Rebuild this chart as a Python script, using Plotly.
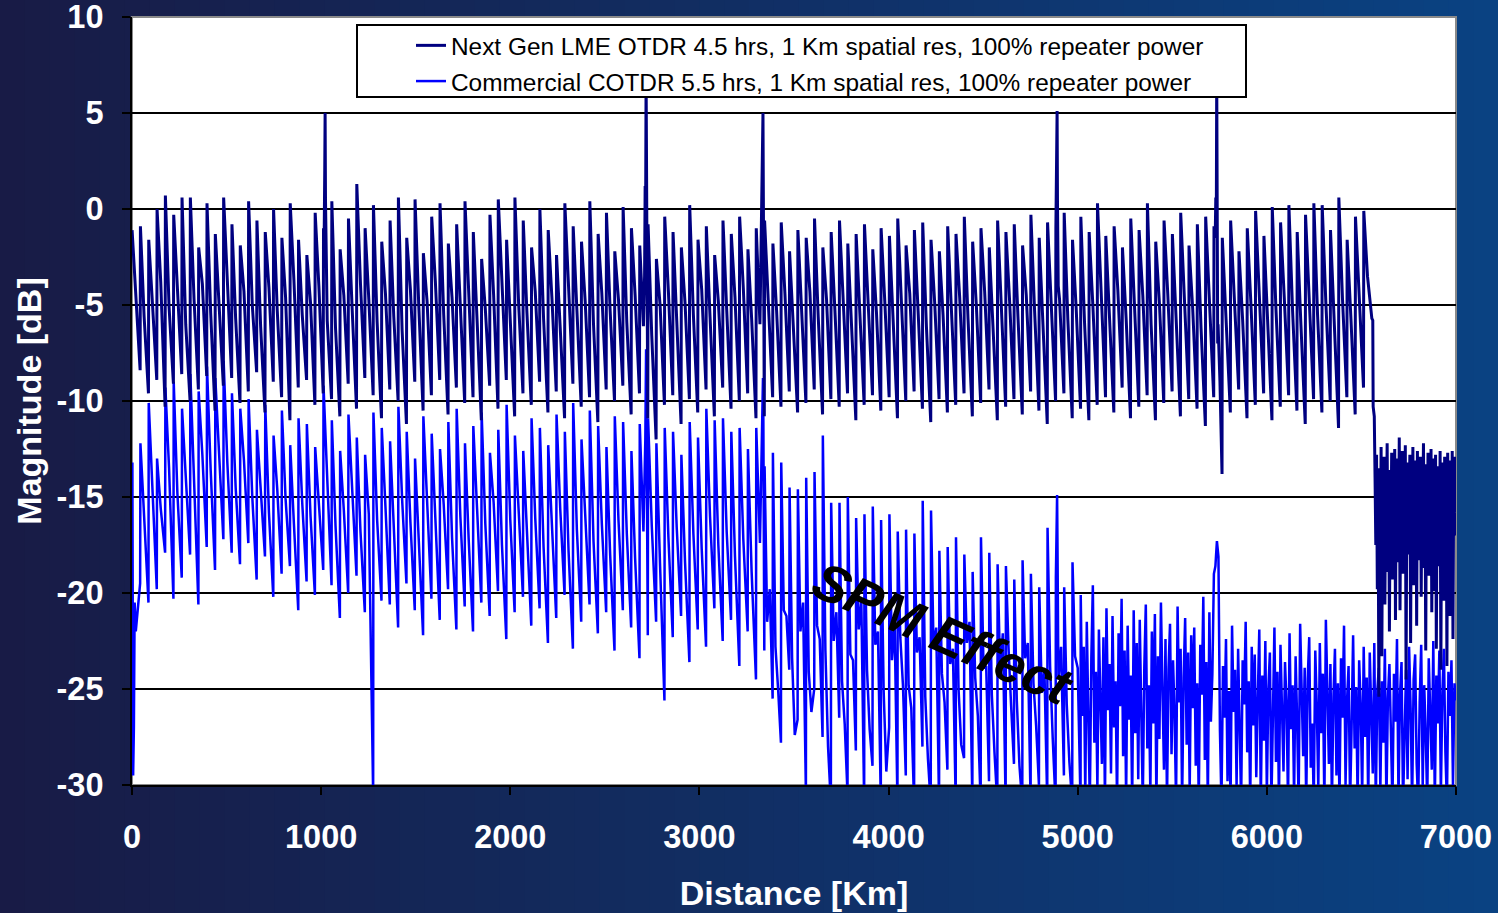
import plotly.graph_objects as go

# ---------------- data ----------------
SPAN_KM = 44  # repeater spacing

series_names = [
    "Next Gen LME OTDR 4.5 hrs, 1 Km spatial res, 100% repeater power",
    "Commercial COTDR 5.5 hrs, 1 Km spatial res, 100% repeater power",
]

x_ticks = [0, 1000, 2000, 3000, 4000, 5000, 6000, 7000]
y_ticks = [-30, -25, -20, -15, -10, -5, 0, 5, 10]

# Next Gen LME OTDR: per-span peak / mid-span / trough [dB]
navy_peak = [
    -1.1, -0.9, -1.6, 0.0, 0.7, -0.3, 0.6, 0.6, -2.0, 0.3,
    -1.3, 0.6, -0.8, -1.9, 0.4, -0.6, -1.2, 0.0, -1.5, 0.3,
    -1.6, -2.4, -0.2, -1.0, 0.4, -2.1, -0.5, 1.3, -1.0, 0.2,
    -1.7, -0.6, 0.6, -1.5, 0.5, -2.3, -0.4, 0.3, -1.8, -0.8,
    0.4, -1.2, -2.6, -0.3, 0.5, -1.6, 0.6, -0.6, -2.0, 0.0,
    -1.1, -2.4, 0.3, -0.9, -1.7, 0.4, -1.3, -0.2, -2.2, 0.1,
    -1.0, -1.9, -0.8, -2.6, -0.4, -1.2, -2.0, 0.2, -1.6, -0.9,
    -2.4, -0.6, -1.3, -0.4, -2.1, -1.0, -0.6, -1.8, -0.7, -2.2,
    -1.1, -1.5, -0.5, -2.0, -1.2, -0.6, -1.8, -1.3, -0.8, -2.1,
    -1.0, -1.4, -0.5, -1.9, -1.1, -0.7, -1.6, -2.2, -0.9, -1.3,
    -0.4, -1.7, -1.0, -2.0, -0.6, -1.2, -0.8, -1.9, -0.3, -1.5,
    -0.7, -1.0, -0.2, -1.6, -0.4, -1.2, 0.3, -1.4, -0.9, -2.0,
    -0.5, -1.1, 0.3, -1.7, -0.6, -1.3, -0.2, -1.9, -0.8, -0.4,
    -0.9, -1.5, -0.6, -2.2, -1.0, -0.1, -1.4, 0.1, -0.7, 0.2,
    -1.2, -0.3, 0.3, 0.2, -1.1, 0.6, -1.6, -0.4, -0.1,
]
navy_mid = [
    -4.2, -5.6, -4.9, -3.8, -5.1, -4.4, -6.0, -4.7, -3.9, -5.4,
    -4.8, -3.6, -5.7, -4.3, -5.0, -6.1, -4.1, -5.3, -4.6, -3.7,
    -5.5, -4.9, -4.0, -5.8, -6.2, -4.5, -5.2, -3.9, -4.7, -5.9,
    -4.4, -5.6, -6.3, -4.2, -5.0, -4.8, -3.8, -5.5, -4.6, -5.3,
    -4.1, -6.0, -5.2, -4.5, -3.7, -5.8, -4.9, -5.4, -4.3, -5.7,
    -4.6, -6.2, -4.0, -5.1, -4.8, -6.0, -4.4, -5.3, -4.7, -5.9,
    -4.5, -6.1, -6.6, -5.0, -4.3, -5.8, -4.9, -5.5, -4.2, -5.6,
    -4.8, -5.2, -4.6, -4.1, -5.7, -6.0, -4.9, -5.3, -4.4, -5.8,
    -5.0, -4.3, -5.6, -4.7, -5.2, -4.5, -6.0, -5.1, -4.6, -5.4,
    -4.8, -5.9, -5.0, -4.4, -5.3, -6.1, -4.9, -5.5, -5.2, -4.6,
    -5.7, -5.0, -4.3, -5.9, -5.1, -4.8, -5.6, -4.5, -5.3, -6.0,
    -4.9, -4.7, -5.8, -5.2, -5.9, -5.0, -4.6, -5.5, -4.2, -5.7,
    -5.1, -4.5, -6.0, -4.9, -4.4, -5.6, -4.8, -5.2, -6.2, -4.7,
    -7.0, -5.4, -4.3, -5.8, -5.0, -4.5, -5.9, -5.2, -4.6, -5.3,
    -6.0, -4.8, -5.5, -4.9, -6.1, -4.7, -5.6, -4.4, -3.5,
]
navy_trough = [
    -8.4, -9.6, -8.9, -10.3, -9.1, -8.6, -10.0, -9.4, -8.7, -10.5,
    -9.2, -8.8, -10.1, -9.5, -8.5, -10.6, -9.0, -9.8, -11.0, -9.3,
    -8.9, -10.2, -9.6, -9.9, -10.8, -9.1, -10.4, -8.8, -9.7, -10.9,
    -9.4, -10.0, -11.2, -9.0, -10.5, -9.7, -8.9, -10.7, -9.3, -10.1,
    -9.8, -11.0, -9.2, -10.4, -8.9, -10.8, -9.6, -10.2, -9.0, -10.6,
    -9.5, -10.9, -9.1, -10.3, -9.8, -11.1, -9.4, -10.0, -9.2, -10.7,
    -9.6, -10.9, -12.0, -10.2, -9.7, -11.2, -9.9, -10.6, -9.4, -10.8,
    -9.3, -10.4, -10.0, -9.6, -10.9, -10.8, -9.8, -10.3, -9.5, -10.6,
    -10.1, -9.4, -10.7, -9.9, -10.3, -9.6, -11.0, -10.2, -9.7, -10.5,
    -9.8, -10.9, -10.0, -9.5, -10.4, -11.1, -9.9, -10.6, -10.2, -9.6,
    -10.8, -10.1, -9.4, -11.0, -10.3, -9.9, -10.7, -9.5, -10.5, -11.2,
    -10.0, -9.6, -10.9, -10.4, -11.0, -10.2, -9.8, -10.6, -9.3, -10.9,
    -10.3, -9.7, -11.0, -10.1, -9.5, -10.8, -9.9, -10.4, -11.3, -9.8,
    -13.8, -10.6, -9.4, -10.9, -10.2, -9.6, -11.0, -10.3, -9.7, -10.5,
    -11.2, -9.9, -10.6, -10.0, -11.4, -9.8, -10.7, -9.3, -5.7,
]
# repeater reflection spikes and end-of-link points (km, dB)
navy_event_km = [1016, 1019, 1021, 1023, 1027,
                 2710, 2713, 2716, 2718, 2720, 2723,
                 3326, 3330, 3333, 3336, 3338, 3340,
                 4887, 4889, 4891, 4893, 4897,
                 5727, 5730, 5733, 5735, 5737, 5742, 5752,
                 6560, 6562, 6568]
navy_event_db = [-1.5, 2.0, 5.0, 0.5, -4.0,
                 -3.5, 1.2, 1.0, 7.0, 1.3, -2.5,
                 -2.5, 2.1, 1.8, 5.0, 0.6, -2.5,
                 1.6, 1.2, 5.1, 0.4, -4.0,
                 -1.5, 0.6, 0.3, 7.0, 0.5, -6.0, -9.0,
                 -5.8, -10.3, -10.8]
# noise floor after the end of the link (every 4 km from 6572 km)
NAVY_TAIL_START_KM = 6572
NAVY_TAIL_STEP_KM = 4
navy_tail_db = [
    -14.0, -17.5, -12.8, -19.8, -13.5, -25.4, -14.6, -18.2, -12.4, -23.3, -13.9, -17.0,
    -12.9, -20.6, -14.3, -16.4, -12.2, -18.9, -13.6, -22.0, -14.8, -16.9, -12.7, -19.3,
    -13.3, -15.9, -12.5, -21.4, -14.1, -17.6, -13.0, -18.4, -11.9, -20.9, -14.4, -16.2,
    -12.6, -19.0, -13.8, -17.2, -12.3, -24.5, -14.9, -18.0, -13.2, -15.7, -12.8, -22.6,
    -13.7, -17.9, -12.4, -19.6, -14.2, -16.6, -13.1, -21.7, -12.6, -18.3, -14.0, -17.1,
    -12.9, -20.2, -13.5, -16.0, -12.2, -18.7, -14.6, -23.0, -13.3, -17.4, -12.7, -19.1,
    -13.9, -16.5, -12.5, -21.0, -14.3, -17.8, -13.0, -19.9, -12.8, -22.9, -14.5, -16.8,
    -13.4, -18.6, -12.6, -24.0, -14.1, -17.3, -13.2, -20.4, -12.9, -18.1, -13.6, -23.8,
    -12.7, -17.6, -14.2, -21.2, -13.1, -19.4, -12.6, -22.4, -13.8, -17.0, -12.9, -15.8,
]

# Commercial COTDR: per-span peak / trough [dB]
blue_peak = [
    -25.0, -12.2, -10.1, -13.0, -9.3, -9.0, -10.4, -8.6, -9.5, -8.2,
    -8.8, -7.9, -9.6, -10.4, -9.9, -11.5, -10.2, -11.8, -10.5, -12.3,
    -10.9, -11.2, -12.4, -9.2, -11.0, -12.6, -10.7, -11.9, -12.8, -10.6,
    -11.4, -12.1, -10.3, -11.6, -13.0, -10.8, -11.7, -12.5, -11.1, -10.4,
    -12.2, -11.3, -10.6, -12.7, -11.5, -10.2, -11.8, -12.6, -10.9, -11.4,
    -12.3, -10.7, -11.6, -10.1, -12.0, -10.5, -11.3, -12.4, -10.8, -11.1,
    -12.6, -11.2, -10.9, -12.2, -11.4, -11.6, -12.8, -11.1, -11.9, -10.4,
    -11.0, -10.9, -11.6, -11.4, -12.5, -11.4, -13.4, -12.7, -13.2, -14.5,
    -14.6, -14.0, -13.7, -11.8, -15.3, -15.3, -15.0, -16.1, -15.9, -15.5,
    -16.2, -15.9, -16.8, -16.7, -16.9, -15.2, -15.7, -17.8, -17.6, -17.1,
    -18.0, -18.9, -17.1, -17.9, -18.5, -18.6, -19.3, -18.3, -19.0, -19.7,
    -16.6, -19.2, -19.7, -18.4,
]
blue_trough = [
    -19.5, -20.5, -19.8, -17.9, -20.3, -19.2, -18.0, -20.6, -17.6, -18.8,
    -17.2, -17.9, -18.5, -17.4, -19.3, -18.1, -20.2, -19.0, -18.6, -20.9,
    -19.4, -20.1, -18.8, -19.6, -21.3, -20.0, -19.1, -21.0, -30.5, -20.4,
    -20.6, -21.8, -19.5, -20.9, -22.2, -20.3, -21.4, -19.8, -21.9, -20.7,
    -22.0, -20.5, -21.2, -19.9, -22.4, -21.0, -20.2, -21.7, -20.8, -22.6,
    -21.3, -20.1, -22.9, -21.5, -20.6, -22.1, -21.0, -23.0, -20.9, -21.8,
    -23.4, -22.2, -21.5, -25.6, -22.3, -21.2, -23.6, -21.9, -22.8, -20.8,
    -22.5, -21.4, -23.8, -22.0, -24.5, -23.0, -25.5, -27.8, -24.0, -26.6,
    -30.5, -25.0, -27.5, -31.0, -26.5, -30.5, -28.2, -31.0, -29.0, -31.0,
    -27.0, -31.0, -29.5, -31.0, -28.0, -31.0, -31.0, -29.2, -31.0, -28.6,
    -31.0, -31.0, -29.8, -31.0, -31.0, -28.9, -31.0, -31.0, -30.0, -31.0,
    -31.0, -29.5, -31.0, -31.0,
]
# mid-span kink of spans 0..75
blue_mid_c = [
    -22.0, -16.0, -14.2, -15.6, -13.5, -14.8, -13.9, -14.1, -12.8, -13.6,
    -12.4, -13.2, -14.5, -13.1, -15.0, -14.3, -15.8, -14.6, -15.1, -16.4,
    -15.3, -16.0, -15.2, -14.4, -16.5, -15.7, -14.9, -16.8, -15.9, -16.2,
    -15.5, -17.0, -15.1, -16.3, -17.4, -15.6, -16.6, -15.4, -17.1, -16.0,
    -17.2, -15.8, -16.4, -15.3, -17.5, -16.2, -15.7, -16.9, -16.1, -17.6,
    -16.5, -15.6, -17.8, -16.7, -15.9, -17.3, -16.4, -18.0, -16.2, -16.9,
    -18.2, -16.8, -16.5, -18.6, -17.1, -16.6, -18.4, -16.9, -17.7, -16.0,
    -17.5, -16.8, -18.1, -17.2, -18.9, -17.4,
]
# extra intermediate wiggles inside spans 76..113 (SPM-degraded part)
BLUE_MID_FIRST_SPAN = 76
blue_mid_a = [
    -21.5, -22.8, -20.9, -23.4, -22.0, -24.1, -21.7, -23.0, -22.5, -24.6,
    -23.2, -21.9, -24.0, -22.7, -25.1, -23.5, -22.3, -24.8, -23.1, -25.4,
    -22.9, -24.2, -23.7, -25.0, -22.6, -24.4, -23.9, -25.3, -24.1, -22.8,
    -25.6, -23.4, -24.7, -25.2, -23.8, -24.5, -25.8, -23.3,
]
blue_mid_b = [
    -19.8, -25.0, -21.2, -27.4, -20.5, -26.2, -22.4, -28.0, -21.0, -26.8,
    -23.5, -20.4, -27.1, -22.0, -29.3, -21.6, -24.8, -26.0, -22.3, -28.6,
    -21.8, -25.7, -22.9, -27.9, -21.5, -26.4, -23.8, -28.3, -22.1, -25.9,
    -29.0, -22.6, -26.9, -24.0, -27.6, -22.8, -28.8, -23.9,
]
blue_event_km = [2, 6, 10, 14,
                 2714, 2716, 2718, 2720, 2723,
                 3330, 3333, 3336, 3338, 3341,
                 4886, 4889, 4891, 4893]
blue_event_db = [-13.2, -29.5, -27.0, -20.5,
                 -12.0, -9.0, -7.3, -10.5, -18.0,
                 -12.0, -9.5, -8.8, -11.0, -17.0,
                 -17.0, -15.5, -14.9, -17.5]
# noisy part of the commercial trace (every 8 km from 5016 km)
BLUE_TAIL_START_KM = 5016
BLUE_TAIL_STEP_KM = 8
blue_tail_db = [
    -20.1, -26.4, -22.8, -30.6, -21.5, -25.2, -31.0, -23.4, -19.6, -27.8, -24.1, -30.2,
    -21.9, -25.6, -28.9, -22.3, -31.0, -20.8, -26.1, -23.7, -29.4, -21.2, -27.0, -24.6,
    -31.0, -22.1, -25.9, -20.3, -28.5, -23.0, -30.8, -21.7, -26.6, -24.3, -31.0, -20.9,
    -27.3, -22.6, -29.7, -21.4, -25.4, -31.0, -23.9, -20.6, -28.1, -24.8, -30.4, -22.0,
    -26.8, -21.1, -31.0, -23.3, -27.6, -20.5, -25.0, -29.2, -22.4, -31.0, -24.0, -21.6,
    -28.4, -23.5, -26.3, -30.9, -20.7, -25.7, -22.9, -31.0, -24.4, -21.3, -27.9, -23.1,
    -30.3, -22.2, -26.0, -21.8, -29.0, -24.7, -31.0, -22.7, -25.3, -20.2, -28.7, -23.6,
    -31.0, -21.0, -26.7, -24.2, -19.0, -18.6, -17.3, -18.1, -27.2, -31.0, -23.8, -26.5,
    -22.4, -29.8, -25.1, -31.0, -21.7, -26.2, -24.0, -30.1, -22.9, -27.4, -31.0, -23.5,
    -25.8, -21.5, -28.3, -24.6, -31.0, -22.8, -26.9, -23.2, -29.6, -25.5, -21.9, -31.0,
    -24.3, -27.7, -22.5, -30.5, -25.0, -23.1, -31.0, -26.4, -21.8, -28.8, -24.1, -31.0,
    -22.7, -26.0, -29.3, -23.6, -25.7, -31.0, -22.1, -27.1, -24.8, -30.7, -23.3, -26.6,
    -31.0, -21.6, -25.2, -28.5, -23.9, -31.0, -24.5, -22.3, -29.1, -26.8, -31.0, -23.0,
    -25.9, -30.2, -22.6, -27.3, -24.2, -31.0, -21.4, -26.1, -28.9, -23.7, -31.0, -25.4,
    -22.9, -29.5, -24.7, -31.0, -23.4, -26.5, -21.7, -30.0, -25.6, -23.8, -31.0, -27.0,
    -22.2, -28.1, -24.9, -31.0, -23.5, -25.8, -30.6, -22.8, -27.5, -24.4, -31.0, -23.1,
    -26.3, -29.4, -22.6, -31.0, -25.1, -23.9, -30.3, -24.6, -27.8, -22.9, -31.0, -25.5,
    -23.7, -28.6, -31.0, -24.2, -26.7, -22.4, -30.8, -25.3, -23.6, -31.0, -27.2, -24.0,
    -29.7, -22.8, -26.0, -31.0, -24.5, -23.2, -28.9, -31.0, -25.7, -22.7, -30.1, -24.8,
    -27.4, -31.0, -23.4, -25.9, -29.2, -22.5, -31.0, -24.3, -26.8, -23.0, -30.5, -25.2,
    -22.9, -28.3, -31.0, -24.1, -26.4, -23.5, -30.0, -24.7, -25.6,
]

annotation_text = "SPM Effect"
annotation_km = 4290
annotation_db = -22.1


# ---------------- assemble the traces ----------------
def build_trace(peaks, troughs, ev_km, ev_db, tail_start, tail_step, tail_db, mids):
    """mids: list of (offset_km, values, first_span_index)"""
    pts = []
    for i, (p, t) in enumerate(zip(peaks, troughs)):
        x0 = i * SPAN_KM
        pts.append((x0 + 0.5, p))
        for off, vals, first in mids:
            j = i - first
            if 0 <= j < len(vals):
                pts.append((x0 + off, vals[j]))
        pts.append((x0 + SPAN_KM - 1, t))
    pts += list(zip(ev_km, ev_db))
    pts += [(tail_start + k * tail_step, v) for k, v in enumerate(tail_db)]
    pts.sort(key=lambda q: q[0])
    return [q[0] for q in pts], [q[1] for q in pts]


nx, ny = build_trace(navy_peak, navy_trough, navy_event_km, navy_event_db,
                     NAVY_TAIL_START_KM, NAVY_TAIL_STEP_KM, navy_tail_db,
                     [(20, navy_mid, 0)])
bx, by = build_trace(blue_peak, blue_trough, blue_event_km, blue_event_db,
                     BLUE_TAIL_START_KM, BLUE_TAIL_STEP_KM, blue_tail_db,
                     [(20, blue_mid_c, 0),
                      (14, blue_mid_a, BLUE_MID_FIRST_SPAN),
                      (28, blue_mid_b, BLUE_MID_FIRST_SPAN)])

FONT = "Liberation Sans, Arial, sans-serif"

fig = go.Figure()
fig.add_trace(go.Scatter(x=bx, y=by, mode="lines", name=series_names[1],
                         line=dict(color="#0000FF", width=2.5),
                         legendgroup="b", legendrank=2))
fig.add_trace(go.Scatter(x=nx, y=ny, mode="lines", name=series_names[0],
                         line=dict(color="#000080", width=3),
                         legendgroup="a", legendrank=1))

# ---------------- layout / styling ----------------
W, H = 1498, 913
L, R, T, B = 132, 42, 17, 128
pw, ph = W - L - R, H - T - B


def px_x(p):
    return (p - L) / pw


def px_y(p):
    return (H - B - p) / ph


shapes = []
# slide-like background gradient
n_strips = 60
c0 = (24, 27, 70)
c1 = (10, 66, 130)
for k in range(n_strips):
    f = k / (n_strips - 1)
    col = tuple(int(round(c0[i] + (c1[i] - c0[i]) * f)) for i in range(3))
    shapes.append(dict(type="rect", xref="paper", yref="paper",
                       x0=px_x(k * W / n_strips), x1=px_x((k + 1) * W / n_strips + 1),
                       y0=px_y(H), y1=px_y(0), line=dict(width=0),
                       fillcolor="rgb(%d,%d,%d)" % col, layer="below"))
# plot area
shapes.append(dict(type="rect", xref="paper", yref="paper", x0=0, x1=1, y0=0, y1=1,
                   fillcolor="white", line=dict(color="#8a8a8a", width=2), layer="below"))
# legend box
shapes.append(dict(type="rect", xref="paper", yref="paper",
                   x0=px_x(357), x1=px_x(1246), y0=px_y(97), y1=px_y(25),
                   fillcolor="white", line=dict(color="black", width=2), layer="above"))

fig.update_layout(
    width=W, height=H,
    margin=dict(l=L, r=R, t=T, b=B, autoexpand=False),
    paper_bgcolor="rgb(18,40,90)",
    plot_bgcolor="rgba(0,0,0,0)",
    shapes=shapes,
    showlegend=True,
    legend=dict(x=px_x(411), y=px_y(23), xanchor="left", yanchor="top",
                bgcolor="rgba(0,0,0,0)", borderwidth=0, tracegroupgap=1,
                font=dict(family=FONT, size=24.4, color="black")),
    annotations=[dict(x=annotation_km, y=annotation_db, xref="x", yref="y",
                      text="<b><i>%s</i></b>" % annotation_text, showarrow=False,
                      textangle=24, font=dict(family=FONT, size=53, color="black"))],
)
fig.update_xaxes(range=[0, 7000], tickvals=x_ticks, ticktext=[str(v) for v in x_ticks],
                 showgrid=False, zeroline=False, showline=True, linecolor="black",
                 linewidth=2, ticks="outside", ticklen=8, tickwidth=2, tickcolor="black",
                 ticklabelstandoff=14, ticklabeloverflow="allow",
                 tickfont=dict(family=FONT, size=32.5, color="white", weight="bold"),
                 title=dict(text="Distance [Km]", standoff=27,
                            font=dict(family=FONT, size=34, color="white", weight="bold")))
fig.update_yaxes(range=[-30, 10], tickvals=y_ticks, ticktext=[str(v) for v in y_ticks],
                 showgrid=True, gridcolor="black", gridwidth=2,
                 zeroline=True, zerolinecolor="black", zerolinewidth=2,
                 showline=True, linecolor="black", linewidth=2,
                 ticks="outside", ticklen=8, tickwidth=2, tickcolor="black",
                 ticklabelstandoff=12, ticklabeloverflow="allow",
                 tickfont=dict(family=FONT, size=32.5, color="white", weight="bold"),
                 title=dict(text="Magnitude [dB]", standoff=5,
                            font=dict(family=FONT, size=34, color="white", weight="bold")))

fig.write_html("out.html", config={"displayModeBar": False},
               post_script="document.body.style.margin='0px';"
                           "document.documentElement.style.overflow='hidden';")
